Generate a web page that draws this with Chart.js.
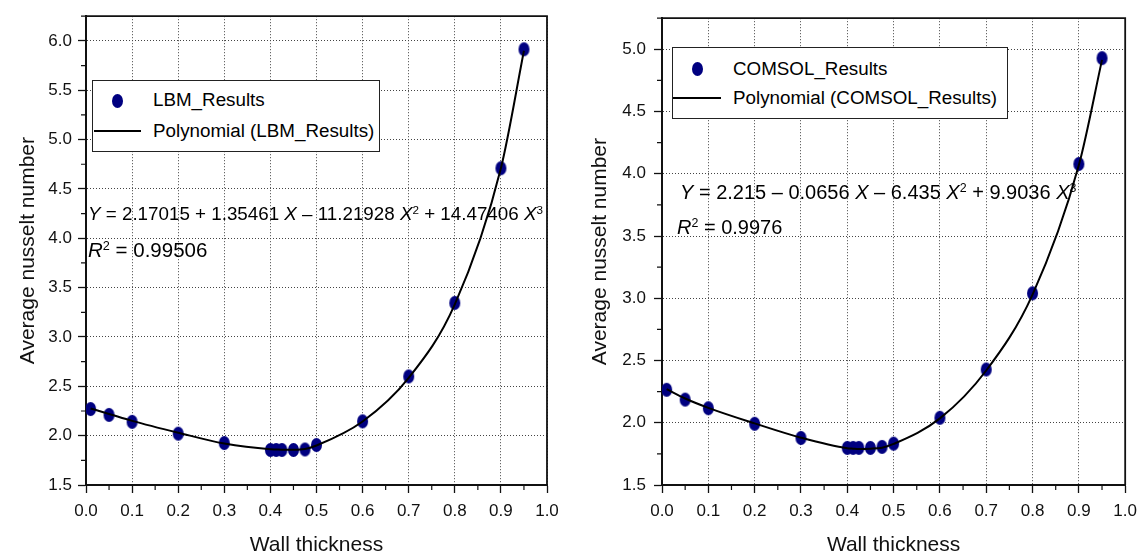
<!DOCTYPE html>
<html><head><meta charset="utf-8">
<script src="https://cdn.jsdelivr.net/npm/chart.js@4.4.0/dist/chart.umd.min.js"></script>
<style>
html,body{margin:0;padding:0;background:#fff;width:1145px;height:553px;overflow:hidden;font-family:"Liberation Sans",Arial,sans-serif;}
.c{position:absolute;top:0;}
.t{position:absolute;white-space:nowrap;line-height:1;color:#000;z-index:2;}
.leg{position:absolute;border:1.3px solid #222;background:#fff;box-sizing:border-box;z-index:2;}
.mk{position:absolute;width:11px;height:14px;border-radius:50%;background:#000080;z-index:3;}
.ln{position:absolute;height:2px;background:#000;z-index:3;}
sup{font-size:0.62em;line-height:0;vertical-align:0.55em;}
</style></head><body>
<canvas id="a" class="c" width="572" height="553" style="left:0"></canvas>
<canvas id="b" class="c" width="573" height="553" style="left:572px"></canvas>

<div class="leg" style="left:92px;top:80px;width:288px;height:72px"></div>
<div class="mk" style="left:111.5px;top:94px"></div>
<div class="t" style="left:153px;top:91.3px;font-size:18.8px">LBM_Results</div>
<div class="ln" style="left:94px;top:130px;width:47px"></div>
<div class="t" style="left:153px;top:121.6px;font-size:18.8px">Polynomial (LBM_Results)</div>
<div class="t" style="left:88px;top:204.6px;font-size:18.8px"><i>Y</i> = 2.17015 + 1.35461 <i>X</i> – 11.21928 <i>X</i><sup>2</sup> + 14.47406 <i>X</i><sup>3</sup></div>
<div class="t" style="left:88px;top:239.8px;font-size:20.5px"><i>R</i><sup>2</sup> = 0.99506</div>

<div class="leg" style="left:672px;top:47px;width:336px;height:72px"></div>
<div class="mk" style="left:691.5px;top:62px"></div>
<div class="t" style="left:733px;top:59.6px;font-size:18.8px">COMSOL_Results</div>
<div class="ln" style="left:673px;top:97px;width:48px"></div>
<div class="t" style="left:733px;top:88.6px;font-size:18.8px">Polynomial (COMSOL_Results)</div>
<div class="t" style="left:680px;top:181.7px;font-size:20px"><i>Y</i> = 2.215 – 0.0656 <i>X</i> – 6.435 <i>X</i><sup>2</sup> + 9.9036 <i>X</i><sup>3</sup></div>
<div class="t" style="left:677px;top:217px;font-size:20px"><i>R</i><sup>2</sup> = 0.9976</div>

<script>
const wallThickness = [0.01,0.05,0.1,0.2,0.3,0.4,0.4125,0.425,0.45,0.475,0.5,0.6,0.7,0.8,0.9,0.95];
const lbmResults = [2.27,2.21,2.14,2.02,1.925,1.855,1.855,1.855,1.855,1.86,1.905,2.145,2.6,3.345,4.71,5.915];
const lbmPolynomial = [2.275,2.22,2.15,2.03,1.92,1.862,1.86,1.858,1.858,1.865,1.9,2.143,2.585,3.33,4.71,5.9];
const comsolResults = [2.265,2.186,2.117,1.992,1.878,1.798,1.798,1.798,1.798,1.806,1.832,2.04,2.428,3.04,4.079,4.929];
const comsolPolynomial = [2.27,2.195,2.12,1.995,1.88,1.795,1.792,1.79,1.792,1.8,1.83,2.035,2.42,3.03,4.07,4.915];
const xMinorTicks = [0.05,0.15,0.25,0.35,0.45,0.55,0.65,0.75,0.85,0.95];
const yMinorTicksLBM = [1.75,2.25,2.75,3.25,3.75,4.25,4.75,5.25,5.75,6.25];
const yMinorTicksCOMSOL = [1.75,2.25,2.75,3.25,3.75,4.25,4.75,5.25];

const FONT = '"Liberation Sans", Arial, sans-serif';
const ell = document.createElement('canvas');
ell.width = 13; ell.height = 16;
{ const c = ell.getContext('2d'); c.fillStyle = '#000080'; c.beginPath(); c.ellipse(6.5, 8, 5.5, 7, 0, 0, Math.PI*2); c.fill(); }

const framePlugin = {
  id: 'frame',
  afterDraw(chart, args, opts) {
    const {ctx, chartArea: {left, right, top, bottom}} = chart;
    const xs = chart.scales.x, ys = chart.scales.y;
    ctx.save();
    ctx.strokeStyle = '#111'; ctx.lineWidth = 1.2; ctx.setLineDash([]);
    ctx.beginPath();
    opts.xMinor.forEach(v => { const p = xs.getPixelForValue(v); ctx.moveTo(p, bottom); ctx.lineTo(p, bottom + 5); });
    opts.yMinor.forEach(v => { const p = ys.getPixelForValue(v); ctx.moveTo(left, p); ctx.lineTo(left - 5, p); });
    ctx.stroke();
    ctx.lineWidth = 1.8;
    ctx.beginPath(); ctx.moveTo(left - 1, top); ctx.lineTo(right, top); ctx.lineTo(right, bottom); ctx.stroke();
    ctx.restore();
  }
};

function makeChart(id, results, poly, yMax, yMinor, padTop, padRight, yWidth, yTickPad) {
  const gridCommon = { color: '#444', lineWidth: 1, tickColor: '#111', tickLength: 8, tickWidth: 1.3, tickBorderDash: [] };
  const borderCommon = { color: '#111', width: 2, dash: [1, 2] };
  return new Chart(document.getElementById(id), {
    type: 'scatter',
    data: {
      datasets: [
        { type: 'line', label: 'Polynomial', data: wallThickness.map((x, i) => ({x, y: poly[i]})),
          borderColor: '#000', borderWidth: 2, pointRadius: 0, showLine: true, fill: false,
          cubicInterpolationMode: 'monotone', order: 0 },
        { type: 'scatter', label: 'Results', data: wallThickness.map((x, i) => ({x, y: results[i]})),
          pointStyle: ell, pointRadius: 7, order: 1 }
      ]
    },
    options: {
      responsive: false, animation: false, devicePixelRatio: 1,
      layout: { padding: { top: padTop, right: padRight, left: 0, bottom: 0 } },
      plugins: { legend: { display: false }, tooltip: { enabled: false },
        frame: { xMinor: xMinorTicks, yMinor: yMinor } },
      scales: {
        x: { type: 'linear', min: 0, max: 1,
          ticks: { stepSize: 0.1, callback: v => v.toFixed(1), font: { family: FONT, size: 17 }, color: '#111', padding: 8, maxRotation: 0, autoSkip: false },
          grid: gridCommon, border: borderCommon,
          title: { display: true, text: 'Wall thickness', font: { family: FONT, size: 21 }, color: '#111', padding: { top: 0, bottom: -5 } },
          afterFit: s => { s.height = 68; } },
        y: { type: 'linear', min: 1.5, max: yMax,
          ticks: { stepSize: 0.5, includeBounds: false, callback: v => v.toFixed(1), font: { family: FONT, size: 17 }, color: '#111', padding: yTickPad },
          grid: gridCommon, border: borderCommon,
          title: { display: true, text: 'Average nusselt number', font: { family: FONT, size: 21 }, color: '#111', padding: { top: 15.4, bottom: 0 } },
          afterFit: s => { s.width = yWidth; } }
      }
    },
    plugins: [framePlugin]
  });
}

makeChart('a', lbmResults, lbmPolynomial, 6.25, yMinorTicksLBM, 11, 25, 86, 6);
makeChart('b', comsolResults, comsolPolynomial, 5.25, yMinorTicksCOMSOL, 15, 18, 90, 8);
</script>
</body></html>
